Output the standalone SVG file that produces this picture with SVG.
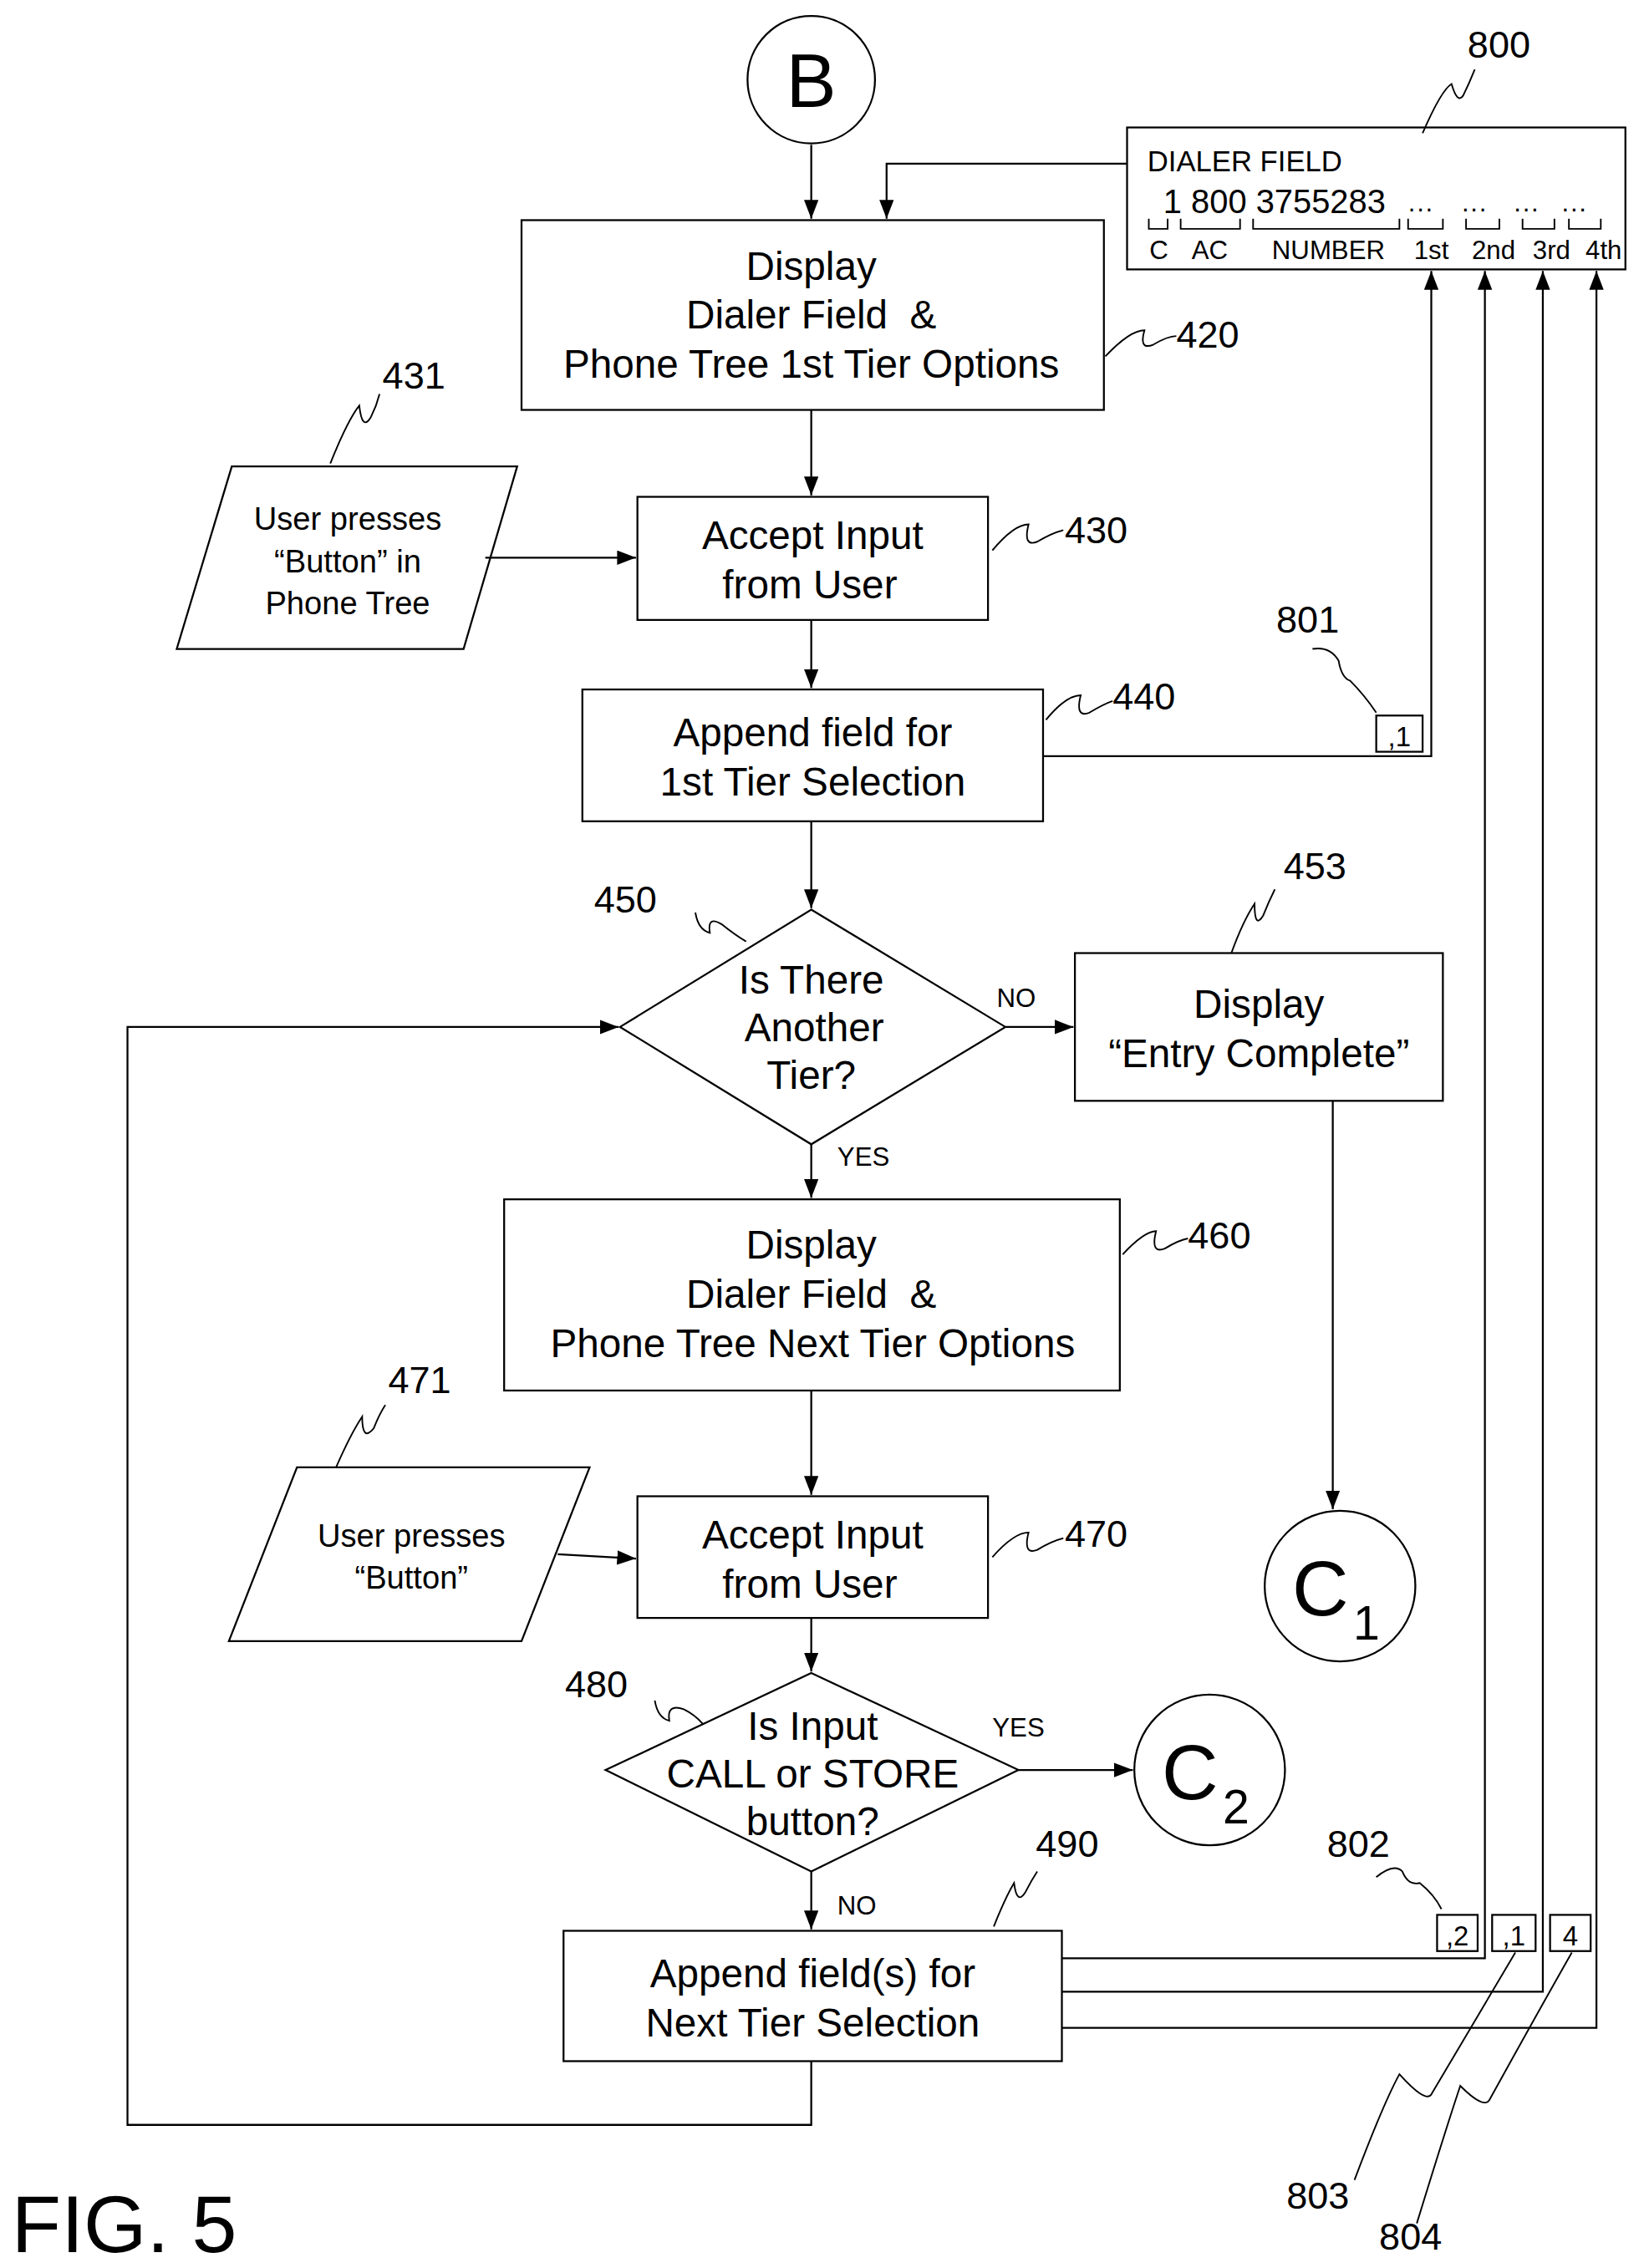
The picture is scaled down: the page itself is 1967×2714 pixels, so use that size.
<svg xmlns="http://www.w3.org/2000/svg" width="1967" height="2714" viewBox="0 0 1967 2714">
<style>
.s{fill:none;stroke:#000;stroke-width:1.3}
.t{font-family:"Liberation Sans",Arial,sans-serif;fill:#000;white-space:pre}
.m{font-size:27.5px;text-anchor:middle}
.r{font-size:26px}
.p{font-size:22px;text-anchor:middle}
.sm{font-size:18px}
.l{fill:none;stroke:#000;stroke-width:1.1}
</style>
<defs>
<marker id="a" markerUnits="userSpaceOnUse" markerWidth="14" markerHeight="12" refX="13" refY="5" orient="auto">
<path d="M0,0 L13,5 L0,10 Z" fill="#000"/>
</marker>
</defs>
<rect width="1967" height="2714" fill="#fff"/>
<g transform="scale(1.7333)">
<g id="nodeB"><ellipse class="s" cx="560" cy="55" rx="44" ry="44"/><text class="t" x="560" y="74" font-size="52" text-anchor="middle">B</text></g>
<g id="n800">
<rect class="s" x="778" y="88" width="344" height="98"/>
<text class="t" x="792" y="118" font-size="20">DIALER FIELD</text>
<text class="t" x="803" y="147" font-size="23">1 800 3755283</text>
<text class="t" x="972" y="146" font-size="18" letter-spacing="1">...</text>
<text class="t" x="1009" y="146" font-size="18" letter-spacing="1">...</text>
<text class="t" x="1045" y="146" font-size="18" letter-spacing="1">...</text>
<text class="t" x="1078" y="146" font-size="18" letter-spacing="1">...</text>
<path class="l" d="M793,151V158H806V151 M815,151V158H856V151 M865,151V158H966V151 M972,151V158H996V151 M1012,151V158H1035V151 M1051,151V158H1073V151 M1083,151V158H1105V151"/>
<text class="t sm" x="800" y="179" text-anchor="middle">C</text>
<text class="t sm" x="835" y="179" text-anchor="middle">AC</text>
<text class="t sm" x="917" y="179" text-anchor="middle">NUMBER</text>
<text class="t sm" x="988" y="179" text-anchor="middle">1st</text>
<text class="t sm" x="1031" y="179" text-anchor="middle">2nd</text>
<text class="t sm" x="1071" y="179" text-anchor="middle">3rd</text>
<text class="t sm" x="1107" y="179" text-anchor="middle">4th</text>
<text class="t r" x="1013" y="40">800</text>
<path class="l" d="M982,92 Q995,62 1002,58 Q1006,72 1010,66 Q1014,58 1018,48"/>
</g>
<g id="n420">
<rect class="s" x="360" y="152" width="402" height="131"/>
<text class="t m" x="560" y="193">Display</text>
<text class="t m" x="560" y="227">Dialer Field  &amp;</text>
<text class="t m" x="560" y="261">Phone Tree 1st Tier Options</text>
<path class="l" d="M763,246 Q780,228 790,228 Q786,242 796,238 Q806,232 812,232"/>
<text class="t r" x="812" y="240">420</text>
</g>
<g id="n431">
<polygon class="s" points="160,322 357,322 320,448 122,448"/>
<text class="t p" x="240" y="366">User presses</text>
<text class="t p" x="240" y="395">“Button” in</text>
<text class="t p" x="240" y="424">Phone Tree</text>
<path class="l" d="M228,320 Q240,290 248,280 Q250,298 256,288 Q260,280 262,272"/>
<text class="t r" x="264" y="268">431</text>
</g>
<g id="n430">
<rect class="s" x="440" y="343" width="242" height="85"/>
<text class="t m" x="561" y="379">Accept Input</text>
<text class="t m" x="559" y="413">from User</text>
<path class="l" d="M685,380 Q700,362 710,362 Q706,378 716,374 Q726,368 734,366"/>
<text class="t r" x="735" y="375">430</text>
</g>
<g id="n440">
<rect class="s" x="402" y="476" width="318" height="91"/>
<text class="t m" x="561" y="515">Append field for</text>
<text class="t m" x="561" y="549">1st Tier Selection</text>
<path class="l" d="M722,497 Q736,480 746,480 Q742,496 752,492 Q762,486 768,484"/>
<text class="t r" x="768" y="490">440</text>
</g>
<g id="n801">
<rect class="s" x="950" y="494" width="32" height="25"/>
<text class="t" x="966" y="515" font-size="19" text-anchor="middle">,1</text>
<text class="t r" x="881" y="437">801</text>
<path class="l" d="M906,448 Q918,446 924,456 Q926,468 932,470 Q942,480 950,492"/>
</g>
<g id="n450">
<polygon class="s" points="560,628 694,709 560,790 428,709"/>
<text class="t m" x="560" y="686">Is There</text>
<text class="t m" x="562" y="719">Another</text>
<text class="t m" x="560" y="752">Tier?</text>
<path class="l" d="M480,630 Q482,642 490,644 Q488,632 498,638 Q508,646 515,650"/>
<text class="t r" x="410" y="630">450</text>
</g>
<g id="n453">
<rect class="s" x="742" y="658" width="254" height="102"/>
<text class="t m" x="869" y="703">Display</text>
<text class="t m" x="869" y="737">“Entry Complete”</text>
<path class="l" d="M850,658 Q858,636 866,624 Q866,642 872,632 Q876,622 880,614"/>
<text class="t r" x="886" y="607">453</text>
</g>
<g id="nC1"><circle class="s" cx="925" cy="1095" r="52"/><text class="t" x="892" y="1115" font-size="54">C</text><text class="t" x="934" y="1132" font-size="33">1</text></g>
<g id="n460">
<rect class="s" x="348" y="828" width="425" height="132"/>
<text class="t m" x="560" y="869">Display</text>
<text class="t m" x="560" y="903">Dialer Field  &amp;</text>
<text class="t m" x="561" y="937">Phone Tree Next Tier Options</text>
<path class="l" d="M775,866 Q790,850 798,850 Q794,866 804,862 Q814,856 820,855"/>
<text class="t r" x="820" y="862">460</text>
</g>
<g id="n471">
<polygon class="s" points="205,1013 407,1013 360,1133 158,1133"/>
<text class="t p" x="284" y="1068">User presses</text>
<text class="t p" x="284" y="1097">“Button”</text>
<path class="l" d="M232,1013 Q242,990 250,978 Q250,996 258,986 Q262,976 266,970"/>
<text class="t r" x="268" y="962">471</text>
</g>
<g id="n470">
<rect class="s" x="440" y="1033" width="242" height="84"/>
<text class="t m" x="561" y="1069">Accept Input</text>
<text class="t m" x="559" y="1103">from User</text>
<path class="l" d="M685,1075 Q700,1058 710,1058 Q706,1074 716,1070 Q726,1064 734,1062"/>
<text class="t r" x="735" y="1068">470</text>
</g>
<g id="n480">
<polygon class="s" points="560,1155 703,1222 560,1292 418,1222"/>
<text class="t m" x="561" y="1201">Is Input</text>
<text class="t m" x="561" y="1234">CALL or STORE</text>
<text class="t m" x="561" y="1267">button?</text>
<path class="l" d="M452,1174 Q454,1186 462,1188 Q460,1176 472,1180 Q480,1184 485,1190"/>
<text class="t r" x="390" y="1172">480</text>
</g>
<g id="nC2"><circle class="s" cx="835" cy="1222" r="52"/><text class="t" x="802" y="1242" font-size="54">C</text><text class="t" x="844" y="1259" font-size="33">2</text></g>
<g id="n490">
<rect class="s" x="389" y="1333" width="344" height="90"/>
<text class="t m" x="561" y="1372">Append field(s) for</text>
<text class="t m" x="561" y="1406">Next Tier Selection</text>
<path class="l" d="M686,1330 Q694,1310 700,1300 Q702,1316 708,1306 Q712,1298 716,1292"/>
<text class="t r" x="715" y="1282">490</text>
</g>
<g id="n802">
<rect class="s" x="992" y="1322" width="28" height="25"/>
<text class="t" x="1006" y="1343" font-size="19" text-anchor="middle">,2</text>
<text class="t r" x="916" y="1282">802</text>
<path class="l" d="M950,1296 Q962,1286 968,1292 Q972,1302 980,1300 Q990,1308 995,1318"/>
</g>
<g id="n803">
<rect class="s" x="1030" y="1322" width="30" height="25"/>
<text class="t" x="1045" y="1343" font-size="19" text-anchor="middle">,1</text>
<path class="l" d="M935,1505 Q955,1452 966,1432 Q984,1452 988,1446 Q1020,1392 1046,1348"/>
<text class="t r" x="888" y="1525">803</text>
</g>
<g id="n804">
<rect class="s" x="1070" y="1322" width="28" height="25"/>
<text class="t" x="1084" y="1343" font-size="19" text-anchor="middle">4</text>
<path class="l" d="M978,1535 Q998,1470 1008,1440 Q1024,1456 1028,1450 Q1060,1392 1085,1348"/>
<text class="t r" x="952" y="1553">804</text>
</g>
<text class="t" x="8" y="1555" font-size="56">FIG. 5</text>
<g id="connectors">
<path class="s" d="M560,100 V151" marker-end="url(#a)"/>
<path class="s" d="M778,113 H612 V151" marker-end="url(#a)"/>
<path class="s" d="M560,283 V342" marker-end="url(#a)"/>
<path class="s" d="M335,385 H439" marker-end="url(#a)"/>
<path class="s" d="M560,428 V475" marker-end="url(#a)"/>
<path class="s" d="M720,522 H988 V187" marker-end="url(#a)"/>
<path class="s" d="M560,567 V627" marker-end="url(#a)"/>
<path class="s" d="M694,709 H741" marker-end="url(#a)"/>
<path class="s" d="M920,760 V1042" marker-end="url(#a)"/>
<path class="s" d="M560,790 V827" marker-end="url(#a)"/>
<path class="s" d="M560,960 V1032" marker-end="url(#a)"/>
<path class="s" d="M385,1073 L439,1076" marker-end="url(#a)"/>
<path class="s" d="M560,1117 V1154" marker-end="url(#a)"/>
<path class="s" d="M703,1222 H782" marker-end="url(#a)"/>
<path class="s" d="M560,1292 V1332" marker-end="url(#a)"/>
<path class="s" d="M560,1423 V1467 H88 V709 H427" marker-end="url(#a)"/>
<path class="s" d="M733,1352 H1025 V187" marker-end="url(#a)"/>
<path class="s" d="M733,1375 H1065 V187" marker-end="url(#a)"/>
<path class="s" d="M733,1400 H1102 V187" marker-end="url(#a)"/>
</g>
<text class="t sm" x="688" y="695">NO</text>
<text class="t sm" x="578" y="805">YES</text>
<text class="t sm" x="685" y="1199">YES</text>
<text class="t sm" x="578" y="1322">NO</text>
</g>
</svg>
